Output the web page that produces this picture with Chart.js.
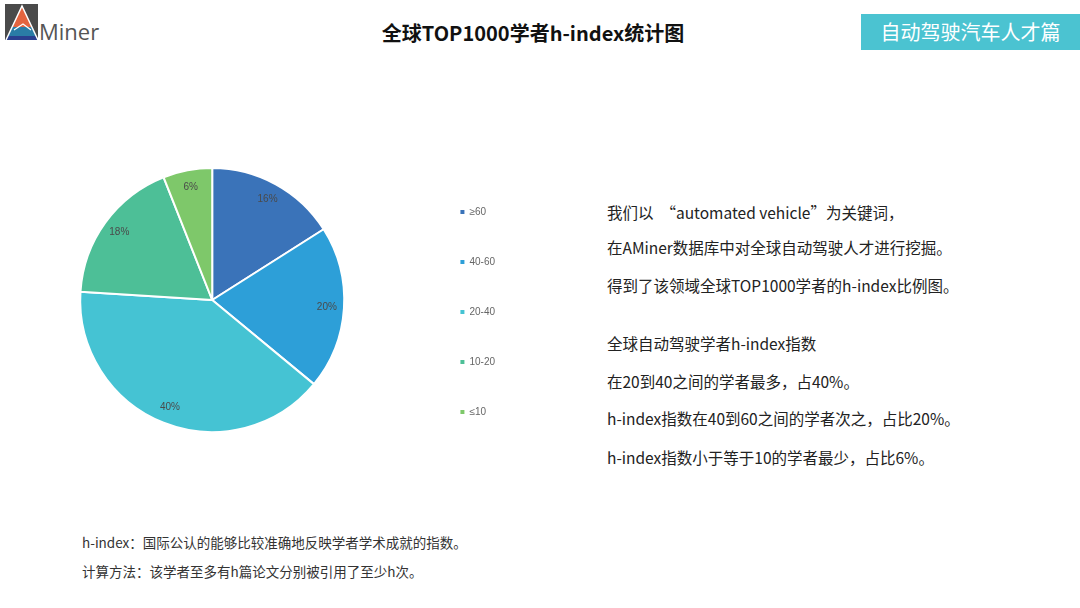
<!DOCTYPE html>
<html lang="zh">
<head>
  <title>全球TOP1000学者h-index统计图</title>
  <meta charset="utf-8">
  <script src="https://cdn.jsdelivr.net/npm/chart.js@4.4.1/dist/chart.umd.min.js"></script>
</head>
<style>
  body {
    margin: 0;
    width: 1080px;
    height: 608px;
    background-color: #ffffff;
    font-family: "Noto Sans CJK SC", "Noto Sans", sans-serif;
    position: relative;
    overflow: hidden;
  }

  .logo {
    position: absolute;
    left: 5px;
    top: 3px;
  }

  .title {
    position: absolute;
    left: 0;
    width: 1066px;
    top: 19px;
    line-height: 28px;
    text-align: center;
    font-size: 20px;
    font-weight: bold;
    color: #111;
  }

  .tag {
    position: absolute;
    left: 861px;
    top: 14px;
    width: 219px;
    height: 36px;
    background-color: #4bc3d1;
    color: #fff;
    font-size: 20px;
    line-height: 36px;
    text-align: center;
  }

  .chart-box {
    position: absolute;
    left: 0px;
    top: 143px;
    width: 540px;
    height: 314px;
  }

  .desc {
    position: absolute;
    left: 607px;
    font-size: 15.5px;
    line-height: 20px;
    color: #222;
    white-space: nowrap;
  }

  .note {
    position: absolute;
    left: 82px;
    font-size: 13.5px;
    line-height: 18px;
    color: #333;
    white-space: nowrap;
  }
</style>
<body>

  <svg class="logo" width="100" height="40" viewBox="0 0 100 40">
    <rect x="0" y="1" width="33" height="36" fill="#4a4a4a"></rect>
    <polygon points="17,3 27,24 7,24" fill="#e4643f"></polygon>
    <polygon points="7,24 27,24 31,33 3,33" fill="#2a7ca6"></polygon>
    <polygon points="3,33 31,33 33,37 1,37" fill="#2a3f8f"></polygon>
    <polyline points="1,37 17,3 33,37" fill="none" stroke="#fff" stroke-width="1.5"></polyline>
    <polyline points="9,27 18,21 26,27" fill="none" stroke="#fff" stroke-width="1.2"></polyline>
    <text x="34" y="37" font-size="22" fill="#555" font-family="Open Sans, sans-serif">Miner</text>
  </svg>

  <div class="title">全球TOP1000学者h-index统计图</div>
  <div class="tag">自动驾驶汽车人才篇</div>

  <div class="chart-box">
    <canvas id="myChart"></canvas>
  </div>

  <div class="desc" style="top:202px;">我们以&nbsp;&nbsp;“automated vehicle”为关键词，</div>
  <div class="desc" style="top:237px;">在AMiner数据库中对全球自动驾驶人才进行挖掘。</div>
  <div class="desc" style="top:275px;">得到了该领域全球TOP1000学者的h-index比例图。</div>
  <div class="desc" style="top:333px;">全球自动驾驶学者h-index指数</div>
  <div class="desc" style="top:371px;">在20到40之间的学者最多，占40%。</div>
  <div class="desc" style="top:408px;">h-index指数在40到60之间的学者次之，占比20%。</div>
  <div class="desc" style="top:447px;">h-index指数小于等于10的学者最少，占比6%。</div>

  <div class="note" style="top:533px;">h-index：国际公认的能够比较准确地反映学者学术成就的指数。</div>
  <div class="note" style="top:562px;">计算方法：该学者至多有h篇论文分别被引用了至少h次。</div>

  <script>
    const xValues = ["≥60", "40-60", "20-40", "10-20", "≤10"];
    const yValues = [16, 20, 40, 18, 6];
    const barColors = [
      "#3a73b9",
      "#2d9fd8",
      "#45c3d3",
      "#4dbf97",
      "#7ec86a"
    ];

    // percent labels inside each slice
    const sliceLabels = {
      id: "sliceLabels",
      afterDatasetsDraw(chart) {
        const ctx = chart.ctx;
        const meta = chart.getDatasetMeta(0);
        ctx.save();
        ctx.font = "10px 'Liberation Sans', Arial, sans-serif";
        ctx.fillStyle = "#4a4a4a";
        ctx.textAlign = "center";
        ctx.textBaseline = "middle";
        meta.data.forEach(function (arc, i) {
          const p = arc.getProps(["x", "y", "startAngle", "endAngle", "outerRadius"], true);
          const mid = (p.startAngle + p.endAngle) / 2;
          const r = p.outerRadius * 0.87;
          ctx.fillText(yValues[i] + "%", p.x + Math.cos(mid) * r, p.y + Math.sin(mid) * r);
        });
        ctx.restore();
      }
    };

    const defaultLabels = Chart.overrides.pie.plugins.legend.labels.generateLabels;

    new Chart("myChart", {
      type: "pie",
      data: {
        labels: xValues,
        datasets: [{
          backgroundColor: barColors,
          borderColor: "#ffffff",
          borderWidth: 2,
          radius: 132,
          data: yValues
        }]
      },
      options: {
        responsive: true,
        maintainAspectRatio: false,
        animation: false,
        layout: { padding: { left: 4, right: 35, top: 0, bottom: 0 } },
        plugins: {
          legend: {
            position: "right",
            align: "end",
            labels: {
              boxWidth: 4,
              boxHeight: 4,
              padding: 40,
              color: "#666",
              font: { size: 10, family: "'Liberation Sans', Arial, sans-serif" },
              generateLabels: function (chart) {
                return defaultLabels(chart).map(function (l) {
                  l.lineWidth = 0;
                  return l;
                });
              }
            }
          },
          tooltip: { enabled: false }
        }
      },
      plugins: [sliceLabels]
    });
  </script>

</body>
</html>
